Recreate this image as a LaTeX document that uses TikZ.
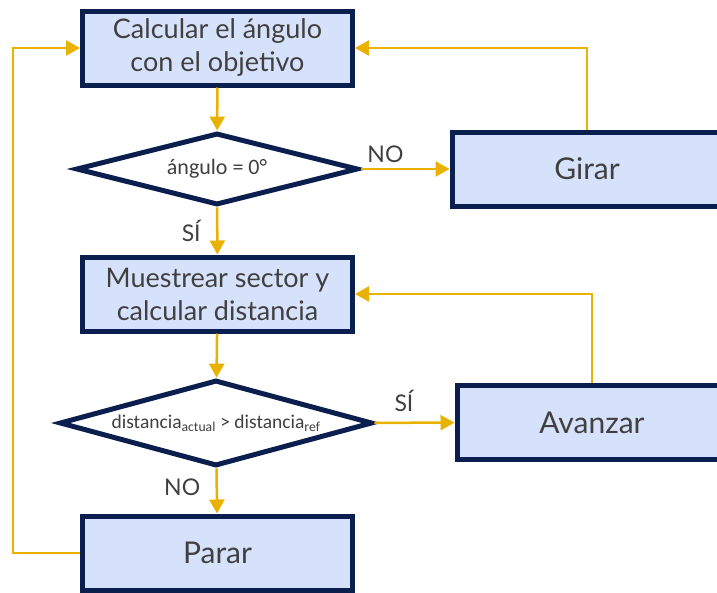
\documentclass[tikz,border=0pt]{standalone}
\usepackage{fontspec}
\setmainfont{Lato}
\newfontfamily\calibri{Carlito}
\usetikzlibrary{shapes.geometric,arrows.meta}

\definecolor{boxnavy}{HTML}{0B1F4F}
\definecolor{boxfill}{HTML}{D6E2FB}
\definecolor{flowgold}{HTML}{E9B200}
\definecolor{txtgray}{HTML}{404040}

\begin{document}
\begin{tikzpicture}[x=1pt, y=-1pt,
    stepbox/.style={draw=boxnavy, line width=5pt, fill=boxfill, minimum width=270pt, minimum height=74pt,
        text=txtgray, align=center, font=\fontsize{27}{33}\selectfont},
    bigbox/.style={stepbox, font=\fontsize{30}{34}\selectfont},
    decision/.style={draw=boxnavy, line width=5pt, fill=white, diamond, inner sep=0pt},
    dtext/.style={text=txtgray, font=\calibri\fontsize{22}{24}\selectfont},
    flow/.style={draw=flowgold, line width=2.5pt, -{Triangle[length=14pt, width=15pt]}},
    answer/.style={text=txtgray, font=\fontsize{23}{26}\selectfont}]
    \useasboundingbox (0,0) rectangle (717,592);

    % Boxes
    \node[stepbox] (calc) at (217.5, 48) {Calcular el ángulo\\con el objetivo};
    \node[bigbox] (girar) at (587, 169) {Girar};
    \node[stepbox] (muest) at (217.5, 294) {Muestrear sector y\\calcular distancia};
    \node[bigbox] (avanz) at (592, 422.5) {Avanzar};
    \node[bigbox] (parar) at (217.5, 553) {Parar};

    % Decisions
    \node[decision, minimum width=282pt, minimum height=72pt] (ang) at (217, 169) {};
    \node[dtext] (angt) at (ang) {ángulo = 0°};
    \node[decision, minimum width=313pt, minimum height=86pt] (dist) at (216, 423) {};
    \node[dtext, font=\calibri\fontsize{19.5}{22}\selectfont] (distt) at (dist) {distancia\textsubscript{actual} > distancia\textsubscript{ref}};

    % Arrows
    \coordinate (back) at (13, 553);
    \draw[flow] (calc) -- (ang);
    \draw[flow] (ang) -- node[answer, above, pos=0.28, yshift=2pt] {NO} (girar);
    \draw[flow] (girar.north) |- (calc.east);
    \draw[flow] (ang) -- node[answer, left, xshift=-12pt] {SÍ} (muest);
    \draw[flow] (muest) -- (dist);
    \draw[flow] (dist) -- node[answer, above, pos=0.37, yshift=6pt] {SÍ} (avanz);
    \draw[flow] (avanz.north) |- (muest.east);
    \draw[flow] (dist) -- node[answer, left, xshift=-12pt, yshift=4pt] {NO} (parar);
    \draw[flow] (parar.west) -- (back) |- (calc.west);
  \end{tikzpicture}
\end{document}
